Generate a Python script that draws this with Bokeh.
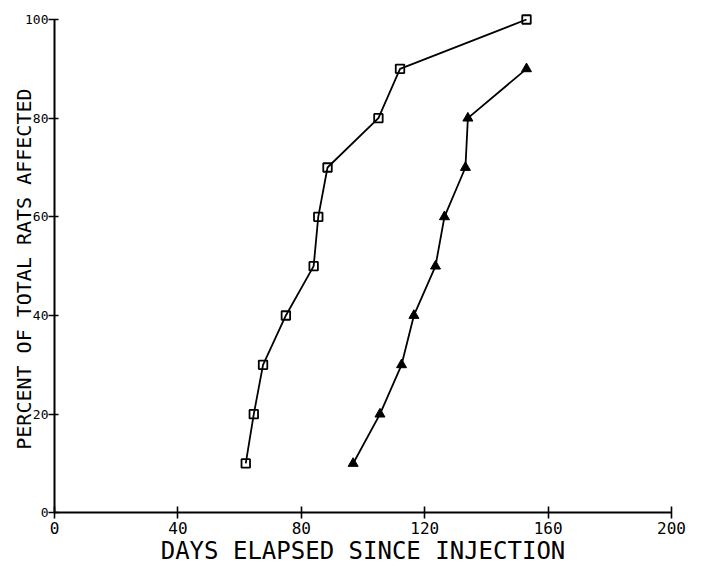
import math
from bokeh.plotting import figure
from bokeh.models import Range1d, Label, FixedTicker
from bokeh.embed import file_html
from bokeh.resources import INLINE

# Data
percent = [10, 20, 30, 40, 50, 60, 70, 80, 90, 100]
days_squares = [62, 64.6, 67.6, 75, 84, 85.5, 88.5, 105, 112, 153]
days_triangles = [96.8, 105.5, 112.5, 116.5, 123.5, 126.4, 133.2, 134, 153]
percent_triangles = [10, 20, 30, 40, 50, 60, 70, 80, 90]

x_ticks = [0, 40, 80, 120, 160, 200]
y_ticks = [0, 20, 40, 60, 80, 100]
x_title = "DAYS ELAPSED SINCE INJECTION"
y_title = "PERCENT OF TOTAL RATS AFFECTED"

FONT = "DejaVu Sans Mono"

W, H = 695, 566
PX_X = 3.085   # pixels per day
PX_Y = 4.933   # pixels per percent
X0, Y0 = 54, 512.3  # pixel position of the origin
x_start = -X0 / PX_X
y_end = Y0 / PX_Y

p = figure(width=W, height=H, output_backend="svg", toolbar_location=None,
           x_range=Range1d(x_start, x_start + W / PX_X),
           y_range=Range1d(y_end - H / PX_Y, y_end),
           min_border=0)
p.outline_line_color = None
p.grid.visible = False
p.background_fill_color = "white"

for ax, ticks in ((p.xaxis, x_ticks), (p.yaxis, y_ticks)):
    ax.ticker = FixedTicker(ticks=ticks)
    ax.fixed_location = 0
    ax.minor_tick_line_color = None
    ax.axis_line_width = 2
    ax.axis_line_color = "black"
    ax.major_tick_line_width = 1.6
    ax.major_tick_line_color = "black"
    ax.major_label_text_font = FONT
    ax.major_label_text_color = "black"

p.xaxis.bounds = (0, 200)
p.yaxis.bounds = (0, 100)
p.xaxis.major_tick_in = 6
p.xaxis.major_tick_out = 6
p.xaxis.major_label_standoff = 3
p.xaxis.major_label_text_font_size = "16px"
p.yaxis.major_tick_in = 4
p.yaxis.major_tick_out = 6
p.yaxis.major_label_standoff = 0
p.yaxis.major_label_text_font_size = "13px"

# series
p.line(days_squares, percent, line_color="black", line_width=1.8)
p.scatter(days_squares, percent, marker="square", size=8.5, fill_color=None,
          line_color="black", line_width=1.8)
p.line(days_triangles, percent_triangles, line_color="black", line_width=1.8)
p.scatter(days_triangles, percent_triangles, marker="triangle", size=10,
          fill_color="black", line_color="black", line_width=1)

# axis titles
p.add_layout(Label(x=100, y=-7.7, text=x_title, text_align="center",
                   text_baseline="middle", text_font=FONT,
                   text_font_size="24px", text_color="black"))
p.add_layout(Label(x=-9.9, y=49.4, text=y_title, text_align="center",
                   text_baseline="middle", angle=math.pi / 2, text_font=FONT,
                   text_font_size="20px", text_color="black"))

open("out.html", "w").write(file_html(p, INLINE))
